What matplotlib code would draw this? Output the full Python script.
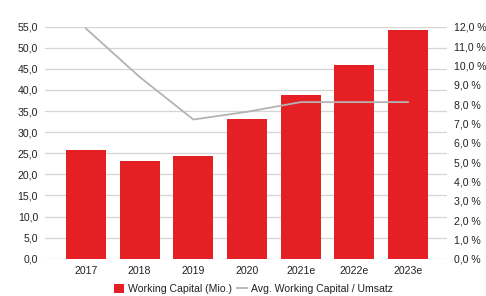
import matplotlib

matplotlib.use("Agg")

import matplotlib.pyplot as plt  # noqa: E402
from matplotlib.patches import Patch  # noqa: E402
from matplotlib.lines import Line2D  # noqa: E402
from matplotlib.ticker import FuncFormatter, MultipleLocator  # noqa: E402

years = ["2017", "2018", "2019", "2020", "2021e", "2022e", "2023e"]
working_capital = [25.8, 23.1, 24.3, 33.1, 38.9, 46.0, 54.3]  # Mio.
wc_ratio = [11.9, 9.4, 7.2, 7.6, 8.1, 8.1, 8.1]  # % of Umsatz

RED = "#e42024"
GREY_LINE = "#b3b3b3"
GRID = "#d4d4d4"
TEXT = "#222222"

plt.rcParams["font.family"] = ["Liberation Sans", "DejaVu Sans"]
plt.rcParams["font.size"] = 7.6

fig = plt.figure(figsize=(4.86, 2.96), dpi=100)
ax = fig.add_axes([0.0926, 0.1257, 0.8272, 0.7841])
ax2 = ax.twinx()

x = list(range(len(years)))
ax.bar(x, working_capital, width=0.745, color=RED, zorder=2)
ax2.plot(x, wc_ratio, color=GREY_LINE, linewidth=1.3, zorder=3)

ax.set_xlim(-0.764, 6.726)
ax.set_ylim(0, 55)
ax2.set_ylim(0, 12)

ax.yaxis.set_major_locator(MultipleLocator(5))
ax2.yaxis.set_major_locator(MultipleLocator(1))
ax.yaxis.set_major_formatter(FuncFormatter(lambda v, _: f"{v:.1f}".replace(".", ",")))
ax2.yaxis.set_major_formatter(FuncFormatter(lambda v, _: f"{v:.1f} %".replace(".", ",")))

ax.set_xticks(x)
ax.set_xticklabels(years)

ax.set_axisbelow(True)
ax.grid(axis="y", color=GRID, linewidth=0.9)
for a in (ax, ax2):
    for s in a.spines.values():
        s.set_visible(False)
    a.tick_params(length=0, colors=TEXT, labelsize=7.6)
ax.tick_params(axis="y", pad=5)
ax.tick_params(axis="x", pad=5)
ax2.tick_params(axis="y", pad=5)

handles = [
    Patch(facecolor=RED, edgecolor="none", label="Working Capital (Mio.)"),
    Line2D([0], [0], color=GREY_LINE, linewidth=1.3, label="Avg. Working Capital / Umsatz"),
]
fig.legend(
    handles=handles,
    loc="center",
    bbox_to_anchor=(0.522, 0.022),
    ncol=2,
    frameon=False,
    fontsize=7.6,
    handlelength=0.9,
    handleheight=0.9,
    handletextpad=0.4,
    columnspacing=0.5,
    labelcolor=TEXT,
)

fig.savefig("out.png", dpi=100)
